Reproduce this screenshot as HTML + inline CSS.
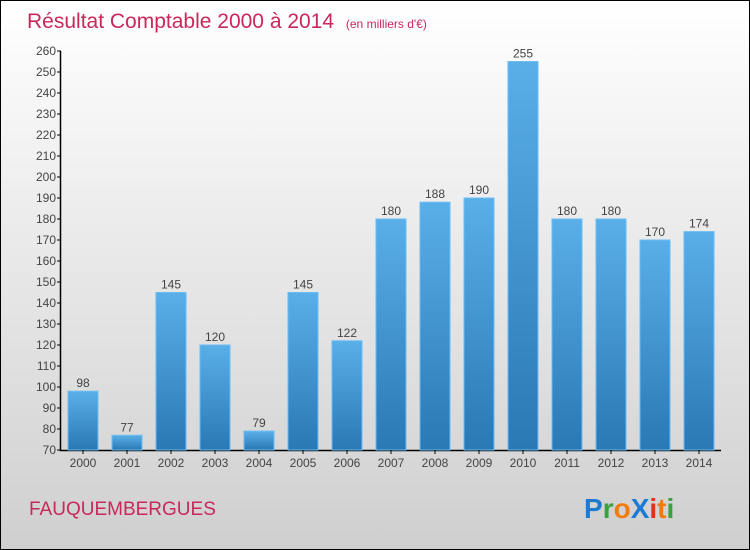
<!DOCTYPE html>
<html><head><meta charset="utf-8"><style>
body{margin:0}
#c{position:relative;width:748px;height:548px;border:1px solid #000;background:linear-gradient(#ffffff,#cfcfcf);font-family:"Liberation Sans",sans-serif;overflow:hidden}
</style></head><body>
<div id="c">
<svg id="s" width="748" height="548" style="position:absolute;left:0;top:0">
<defs><linearGradient id="bg" x1="0" y1="0" x2="0" y2="1"><stop offset="0" stop-color="#5aafe8"/><stop offset="1" stop-color="#2a78b4"/></linearGradient></defs>
<text x="26" y="27" font-size="21" fill="#c8285a">Résultat Comptable 2000 à 2014 <tspan font-size="12" dx="6">(en milliers d'€)</tspan></text>
<text x="28" y="514" font-size="19" fill="#c8285a">FAUQUEMBERGUES</text>
<g font-size="28" font-weight="bold" font-family="'Liberation Sans',sans-serif">
<text x="583" y="517"><tspan fill="#1a7ad4">P</tspan><tspan fill="#3aa040">r</tspan><tspan fill="#f07c10">o</tspan><tspan fill="#1a7ad4">X</tspan><tspan fill="#e03020">i</tspan><tspan fill="#f07c10">t</tspan><tspan fill="#3aa040">i</tspan></text></g>
<g id="plot"></g>
</svg>
</div>
<script>
const years=["2000","2001","2002","2003","2004","2005","2006","2007","2008","2009","2010","2011","2012","2013","2014"];
const values=[98,77,145,120,79,145,122,180,188,190,255,180,180,170,174];
const yTicks=[70,80,90,100,110,120,130,140,150,160,170,180,190,200,210,220,230,240,250,260];
const NS="http://www.w3.org/2000/svg";
const g=document.getElementById('plot');
const y=v=>449-(v-70)*2.1;
const x=i=>82+44*i;
function mk(t,a){const e=document.createElementNS(NS,t);for(const k in a)e.setAttribute(k,a[k]);g.appendChild(e);return e;}
let ax=mk('path',{d:'M59.5,50 V449.5 H720',stroke:'#000','stroke-width':1.5,fill:'none'});


yTicks.forEach(v=>{
 const tk=mk('line',{x1:56,x2:60,y1:y(v),y2:y(v),stroke:'#000'});
 
 
 const t=mk('text',{x:55,y:y(v)+4,'text-anchor':'end','font-size':12,fill:'#444'});
 t.textContent=v;
 
 
});
years.forEach((yr,i)=>{
 const v=values[i];
 const r=mk('rect',{x:x(i)-15,y:y(v),width:30,height:449-y(v),fill:'url(#bg)',stroke:'#6bbcf0','stroke-width':1});
 
 
 const tk=mk('line',{x1:x(i),x2:x(i),y1:449,y2:453,stroke:'#000'});
 
 
 const t=mk('text',{x:x(i),y:466,'text-anchor':'middle','font-size':12,fill:'#444'});
 t.textContent=yr;
 
 
 const l=mk('text',{x:x(i),y:y(v)-4,'text-anchor':'middle','font-size':12,fill:'#444'});
 l.textContent=v;
 
 
});
</script>
</body></html>
